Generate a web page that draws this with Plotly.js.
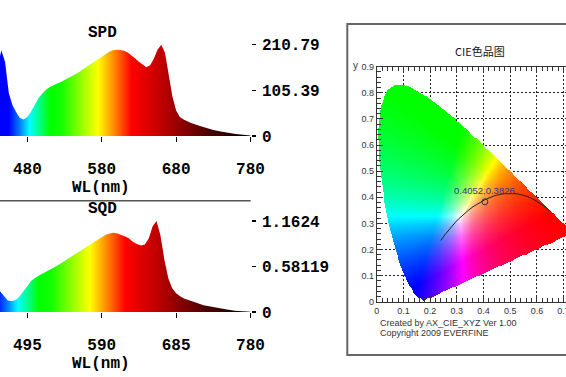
<!DOCTYPE html>
<html><head><meta charset="utf-8">
<script src="https://cdn.plot.ly/plotly-3.0.1.min.js"></script>
<style>
html,body{margin:0;padding:0;overflow:hidden;background:#fff;width:566px;height:377px}
#chart{position:absolute;left:-47px;top:0;width:650px;height:377px}
</style></head><body><div id="chart"></div><script>
// ---- Spectral power distribution (SPD) ----
const spdWl = [380,390,400,410,415,420,425,430,435,440,445,450,455,460,465,470,475,480,485,490,495,500,505,510,515,520,525,530,535,540,545,550,555,560,565,570,575,580,585,590,595,600,605,610,615,620,625,630,635,640,645,650,655,660,665,670,675,680,685,690,695,700,710,720,730,740,750,760,770,780];
const spdVal = [0,0.3,0.8,2,4,9,20,45,95,160,198,171,99,71,55,41.5,38,43.8,56.4,72.6,87.5,98,107,113,117.5,121,124.4,129,132.5,137,143,148.6,154.4,160,166,171.6,177.4,183,190,194.7,198,199.3,198.5,197,193,187,179,171.6,164.7,159,163.6,178.6,199.3,210.79,192,141.7,91,58.8,43.8,38,33.4,30,24.2,18.4,13.8,10.4,6.9,4.6,2.8,1.2];
const spdTicks = [380,480,580,680,780];
const spdYTicks = [0,105.39,210.79];
const spdYText = ['0','105.39','210.79'];

// ---- Spectral quantum distribution (SQD) ----
const sqdWl = [400,410,420,430,440,445,450,455,460,465,470,475,480,485,490,495,500,505,510,515,520,525,530,535,540,545,550,555,560,565,570,575,580,585,590,595,600,605,610,615,620,625,630,635,640,645,650,655,660,665,670,675,680,685,690,695,700,710,720,730,740,750,760,770,780];
const sqdVal = [0.001,0.003,0.03,0.15,0.55,0.74,0.65,0.4,0.264,0.212,0.148,0.142,0.151,0.197,0.264,0.341,0.399,0.438,0.470,0.496,0.521,0.547,0.573,0.605,0.637,0.669,0.702,0.734,0.766,0.798,0.830,0.863,0.897,0.933,0.959,0.987,1.004,1.013,1.004,0.987,0.965,0.940,0.895,0.869,0.850,0.862,0.940,1.094,1.1624,0.978,0.669,0.431,0.303,0.241,0.200,0.174,0.154,0.122,0.086,0.067,0.045,0.031,0.017,0.009,0.003];
const sqdTicks = [400,495,590,685,780];
const sqdYTicks = [0,0.58119,1.1624];
const sqdYText = ['0','0.58119','1.1624'];

// ---- CIE 1931 chromaticity diagram ----
const locusX = [0.1741,0.1740,0.1738,0.1736,0.1733,0.1730,0.1726,0.1721,0.1714,0.1703,0.1689,0.1669,0.1644,0.1611,0.1566,0.1510,0.1440,0.1355,0.1241,0.1096,0.0913,0.0687,0.0454,0.0235,0.0082,0.0039,0.0139,0.0389,0.0743,0.1142,0.1547,0.1929,0.2296,0.2658,0.3016,0.3373,0.3731,0.4087,0.4441,0.4788,0.5125,0.5448,0.5752,0.6029,0.6270,0.6482,0.6658,0.6801,0.6915,0.7006,0.7079,0.7140,0.7190,0.7230,0.7260,0.7283,0.7300,0.7311,0.7320,0.7334,0.7347];
const locusY = [0.0050,0.0050,0.0049,0.0049,0.0048,0.0048,0.0048,0.0048,0.0051,0.0058,0.0069,0.0086,0.0109,0.0138,0.0177,0.0227,0.0297,0.0399,0.0578,0.0868,0.1327,0.2007,0.2950,0.4127,0.5384,0.6548,0.7502,0.8120,0.8338,0.8262,0.8059,0.7816,0.7543,0.7243,0.6923,0.6589,0.6245,0.5896,0.5547,0.5202,0.4866,0.4544,0.4242,0.3965,0.3725,0.3514,0.3340,0.3197,0.3083,0.2993,0.2920,0.2859,0.2809,0.2770,0.2740,0.2717,0.2700,0.2689,0.2680,0.2666,0.2653];
const planckX = [0.6528,0.6251,0.5857,0.5646,0.5267,0.4770,0.4476,0.4369,0.4053,0.3805,0.3608,0.3451,0.3325,0.3221,0.3135,0.3064,0.2952,0.2869,0.2807,0.2719,0.2637,0.2565,0.2501,0.2453,0.2399];
const planckY = [0.3444,0.3674,0.3931,0.4029,0.4133,0.4137,0.4074,0.4041,0.3907,0.3768,0.3636,0.3516,0.3411,0.3318,0.3237,0.3166,0.3048,0.2956,0.2884,0.2776,0.2672,0.2577,0.2489,0.2422,0.2342];
const pointX = [0.4052];
const pointY = [0.3826];
const pointLabel = '0.4052,0.3826';
const cieXTicks = [0,0.1,0.2,0.3,0.4,0.5,0.6,0.7];

// wavelength -> colour scale (style)
const specScale = [
 [0,'#6000a0'],[0.1,'#4000ff'],[0.15,'#0000ff'],[0.1875,'#0000ff'],[0.225,'#0080ff'],
 [0.2575,'#00ffff'],[0.2925,'#00ff80'],[0.325,'#00ff00'],[0.3625,'#10ff00'],[0.4875,'#ffff00'],
 [0.545,'#ff8000'],[0.6,'#ff0000'],[0.65,'#e00000'],[0.7,'#c00000'],[0.785,'#800000'],
 [0.8525,'#500000'],[0.94,'#200000'],[1,'#000000']];

function inside(x,y){
  let c=false; const n=locusX.length;
  for(let i=0,j=n-1;i<n;j=i++){
    const xi=locusX[i],yi=locusY[i],xj=locusX[j],yj=locusY[j];
    if(((yi>y)!==(yj>y)) && (x < (xj-xi)*(y-yi)/(yj-yi)+xi)) c=!c;
  }
  return c;
}
function chroma(x,y){
  const X=x/y,Y=1,Z=(1-x-y)/y;
  let r=3.2406*X-1.5372*Y-0.4986*Z, g=-0.9689*X+1.8758*Y+0.0415*Z, b=0.0557*X-0.2040*Y+1.0570*Z;
  r=Math.max(r,0);g=Math.max(g,0);b=Math.max(b,0);
  const m=Math.max(r,g,b)||1;
  return [Math.round(255*r/m),Math.round(255*g/m),Math.round(255*b/m),1];
}
const step=0.0035, nx=Math.ceil(0.75/step), ny=Math.ceil(0.85/step);
const img=[];
for(let j=0;j<ny;j++){const yy=(j+0.5)*step;const row=[];
  for(let i=0;i<nx;i++){const xx=(i+0.5)*step; row.push(inside(xx,yy)?chroma(xx,yy):[255,255,255,0]);}
  img.push(row);}

const W=650,H=377;
const PX=v=>v/W, PY=v=>1-v/H;
const mono="'Courier New','Liberation Mono',monospace";
const sans="'Liberation Sans',Arial,sans-serif";
const monoFont={family:mono,size:16,weight:'bold',color:'#000'};

const traces=[
 {type:'scatter',x:spdWl,y:spdVal,mode:'lines',line:{width:0,color:'rgba(0,0,0,0)'},fill:'tozeroy',
  fillgradient:{type:'horizontal',colorscale:specScale,start:380,stop:780},xaxis:'x',yaxis:'y',hoverinfo:'skip'},
 {type:'scatter',x:sqdWl,y:sqdVal,mode:'lines',line:{width:0,color:'rgba(0,0,0,0)'},fill:'tozeroy',
  fillgradient:{type:'horizontal',colorscale:specScale,start:380,stop:780},xaxis:'x2',yaxis:'y2',hoverinfo:'skip'},
 {type:'image',z:img,colormodel:'rgba',x0:step/2,dx:step,y0:step/2,dy:step,xaxis:'x3',yaxis:'y3',hoverinfo:'skip'},
 {type:'scatter',x:planckX,y:planckY,mode:'lines',line:{color:'#222',width:1},xaxis:'x3',yaxis:'y3',hoverinfo:'skip'},
 {type:'scatter',x:pointX,y:pointY,mode:'markers',marker:{symbol:'circle-open',size:6,color:'#333',line:{width:1}},xaxis:'x3',yaxis:'y3',hoverinfo:'skip'}
];

const xCommon={ticks:'outside',ticklen:5,tickwidth:1.2,tickcolor:'#000',showgrid:false,zeroline:false,showline:false,tickfont:monoFont,ticklabelstandoff:13,fixedrange:true};
const yCommon={side:'right',ticks:'outside',ticklen:4.3,tickwidth:1.2,tickcolor:'#000',showgrid:false,zeroline:false,showline:false,tickfont:monoFont,tickmode:'array',ticklabelstandoff:3,fixedrange:true};
const yInner={side:'right',ticks:'inside',ticklen:4.3,tickwidth:1.2,tickcolor:'#000',showgrid:false,zeroline:false,showline:false,showticklabels:false,tickmode:'array',fixedrange:true};
const spdTop=(136-40)*210.79/91.3, sqdTop=(312-216)*1.1624/91;
const cieAx={ticks:'inside',ticklen:6,tickcolor:'#333',tickwidth:1,
  minor:{ticks:'inside',tickmode:'linear',tick0:0,dtick:0.02,ticklen:4,tickcolor:'#333',showgrid:false},
  showgrid:true,gridcolor:'#222',griddash:'2px,2px',gridwidth:1,showline:true,linecolor:'#333',linewidth:1,mirror:'ticks',
  zeroline:false,tickfont:{family:sans,size:9,color:'#333'},fixedrange:true};

const layout={
 width:W,height:H,margin:{l:0,r:0,t:0,b:0},paper_bgcolor:'#fff',plot_bgcolor:'rgba(0,0,0,0)',showlegend:false,
 xaxis:Object.assign({},xCommon,{domain:[0,PX(297.5)],range:[380,780],tickmode:'array',tickvals:spdTicks,anchor:'y'}),
 yaxis:Object.assign({},yCommon,{domain:[PY(136),PY(40)],range:[0,spdTop],tickvals:spdYTicks,ticktext:spdYText,anchor:'x'}),
 yaxis5:Object.assign({},yInner,{overlaying:'y',range:[0,spdTop],tickvals:spdYTicks,anchor:'x'}),
 xaxis2:Object.assign({},xCommon,{domain:[0,PX(297.5)],range:[400,780],tickmode:'array',tickvals:sqdTicks,anchor:'y2'}),
 yaxis2:Object.assign({},yCommon,{domain:[PY(312),PY(216)],range:[0,sqdTop],tickvals:sqdYTicks,ticktext:sqdYText,anchor:'x2'}),
 yaxis6:Object.assign({},yInner,{overlaying:'y2',range:[0,sqdTop],tickvals:sqdYTicks,anchor:'x2'}),
 xaxis3:Object.assign({},cieAx,{domain:[PX(423.7),PX(637.3)],range:[0,0.8],anchor:'y3',tickmode:'array',tickvals:cieXTicks}),
 yaxis3:Object.assign({},cieAx,{domain:[PY(301.7),PY(66.7)],range:[0,0.9],anchor:'x3',scaleanchor:false,tickmode:'linear',tick0:0,dtick:0.1}),
 shapes:[
  {type:'line',xref:'paper',yref:'paper',x0:0,x1:PX(297.7),y0:PY(200.7),y1:PY(200.7),line:{color:'#555',width:1.5}},
  {type:'rect',xref:'paper',yref:'paper',x0:PX(394.3),x1:1.05,y0:PY(355),y1:PY(24),line:{color:'#666',width:2}}
 ],
 annotations:[
  {text:'SPD',xref:'paper',yref:'paper',x:PX(149),y:PY(33),showarrow:false,xanchor:'center',yanchor:'middle',font:monoFont},
  {text:'WL(nm)',xref:'paper',yref:'paper',x:PX(148),y:PY(188),showarrow:false,xanchor:'center',yanchor:'middle',font:monoFont},
  {text:'SQD',xref:'paper',yref:'paper',x:PX(149.3),y:PY(209.3),showarrow:false,xanchor:'center',yanchor:'middle',font:monoFont},
  {text:'WL(nm)',xref:'paper',yref:'paper',x:PX(148),y:PY(364),showarrow:false,xanchor:'center',yanchor:'middle',font:monoFont},
  {text:'CIE色品图',xref:'paper',yref:'paper',x:PX(527),y:PY(51),showarrow:false,xanchor:'center',yanchor:'middle',font:{family:"'Noto Sans CJK SC','Liberation Sans',sans-serif",size:11,color:'#111'}},
  {text:'y',xref:'paper',yref:'paper',x:PX(402),y:PY(65),showarrow:false,xanchor:'center',yanchor:'middle',font:{family:sans,size:10,color:'#333'}},
  {text:pointLabel,xref:'x3',yref:'y3',x:pointX[0],y:pointY[0],yshift:11,showarrow:false,xanchor:'center',yanchor:'middle',font:{family:sans,size:9.5,color:'#33338a'}},
  {text:'Created by AX_CIE_XYZ Ver 1.00',xref:'paper',yref:'paper',x:PX(424.7),y:PY(322.7),showarrow:false,xanchor:'left',yanchor:'middle',font:{family:sans,size:9,color:'#333'}},
  {text:'Copyright 2009 EVERFINE',xref:'paper',yref:'paper',x:PX(424.7),y:PY(333.3),showarrow:false,xanchor:'left',yanchor:'middle',font:{family:sans,size:9,color:'#333'}}
 ]
};
Plotly.newPlot('chart',traces,layout,{staticPlot:true,displayModeBar:false});
</script></body></html>
